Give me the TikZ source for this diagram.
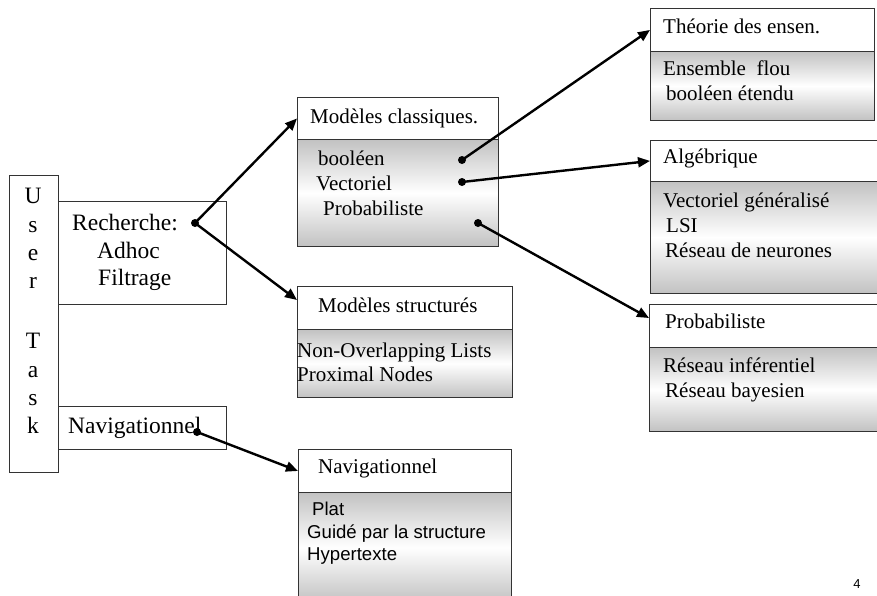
\documentclass[tikz,border=0pt]{standalone}
\usepackage{fontspec}
\setmainfont{Liberation Serif}
\newfontfamily\arialf{Liberation Sans}
\usetikzlibrary{arrows.meta}
\begin{document}
\begin{tikzpicture}[x=1pt,y=-1pt,
  box/.style={draw=black!80, line width=0.9pt, inner sep=0pt, anchor=north west},
  head/.style={box, fill=white},
  body/.style={box, top color=black!24, bottom color=black!24, middle color=white},
  txt/.style={anchor=base west, inner sep=0pt, font=\fontsize{21}{25}\selectfont},
  btxt/.style={anchor=base west, inner sep=0pt, font=\fontsize{23.5}{28}\selectfont},
  atxt/.style={anchor=base west, inner sep=0pt, font=\arialf\fontsize{18.6}{22}\selectfont},
  dotc/.style={circle, fill=black, inner sep=0pt, minimum size=8pt},
  conn/.style={line width=2.4pt, -{Triangle[length=12pt,width=10pt]}}]
\clip (0,0) rectangle (877,595);
\fill[white] (0,0) rectangle (877,595);

% User Task column
\node[box, minimum width=49pt, minimum height=297pt] (user) at (9,175) {};
\foreach \l/\yy [count=\i] in {U/203,s/232,e/260,r/288,T/348,a/377,s/405,k/433}
  \node[btxt, anchor=base] (ul\i) at (33,\yy) {\l};

% Recherche box
\node[box, minimum width=168pt, minimum height=103pt] (rech) at (58,201) {};
\node[btxt] (t1) at (72,230) {Recherche:};
\node[btxt] (t2) at (97,258) {Adhoc};
\node[btxt] (t3) at (98,285) {Filtrage};
\node[dotc] (drech) at (195,223) {};

% Navigationnel left box
\node[box, minimum width=168pt, minimum height=43pt] (navl) at (58,406) {};
\node[btxt] (t4) at (68,433) {Navigationnel};
\node[dotc] (dnav) at (197,432) {};

% Modeles classiques
\node[head, minimum width=201pt, minimum height=42pt] (mch) at (297,97) {};
\node[body, minimum width=201pt, minimum height=107pt] (mcb) at (297,139) {};
\node[txt] (c0) at (310,123) {Modèles classiques.};
\node[txt] (c1) at (318,165) {booléen};
\node[txt] (c2) at (316,190) {Vectoriel};
\node[txt] (c3) at (323,215) {Probabiliste};
\node[dotc] (dbool) at (462,160) {};
\node[dotc] (dvect) at (462,182) {};
\node[dotc] (dprob) at (478,223) {};

% Modeles structures
\node[head, minimum width=215pt, minimum height=43pt] (msh) at (297,286) {};
\node[body, minimum width=215pt, minimum height=68pt] (msb) at (297,329) {};
\node[txt] (s0) at (318,312) {Modèles structurés};
\node[txt] (s1) at (297,357) {Non-Overlapping Lists};
\node[txt] (s2) at (297,381) {Proximal Nodes};

% Navigationnel bottom box
\node[head, minimum width=213pt, minimum height=43pt] (nbh) at (298,449) {};
\node[body, minimum width=213pt, minimum height=110pt] (nbb) at (298,492) {};
\node[txt] (n0) at (318,473) {Navigationnel};
\node[atxt] (n1) at (312,515) {Plat};
\node[atxt] (n2) at (307,538) {Guidé par la structure};
\node[atxt] (n3) at (307,560) {Hypertexte};

% Theorie des ensembles
\node[head, minimum width=224pt, minimum height=43pt] (thh) at (650,8) {};
\node[body, minimum width=224pt, minimum height=69pt] (thb) at (650,51) {};
\node[txt] (e0) at (663,33) {Théorie des ensen.};
\node[txt] (e1) at (663,75) {Ensemble\ \ flou};
\node[txt] (e2) at (666,100) {booléen étendu};

% Algebrique
\node[head, minimum width=240pt, minimum height=41pt] (alh) at (650,140) {};
\node[body, minimum width=240pt, minimum height=112pt] (alb) at (650,181) {};
\node[txt] (a0) at (663,163) {Algébrique};
\node[txt] (a1) at (663,207) {Vectoriel généralisé};
\node[txt] (a2) at (666,232) {LSI};
\node[txt] (a3) at (665,257) {Réseau de neurones};

% Probabiliste
\node[head, minimum width=240pt, minimum height=43pt] (prh) at (649,304) {};
\node[body, minimum width=240pt, minimum height=84pt] (prb) at (649,347) {};
\node[txt] (p0) at (665,328) {Probabiliste};
\node[txt] (p1) at (663,372) {Réseau inférentiel};
\node[txt] (p2) at (665,397) {Réseau bayesien};

% page number
\node[anchor=base, inner sep=0pt, font=\arialf\fontsize{13}{15}\selectfont] (pg) at (857,588) {4};

% connectors
\draw[conn] (drech.center) -- (mch.west);
\draw[conn] (drech.center) -- ([yshift=-14pt]msh.north west);
\draw[conn] (dnav.center) -- (nbh.west);
\draw[conn] (dbool.center) -- (thh.west);
\draw[conn] (dvect.center) -- (alh.west);
\draw[conn] (dprob.center) -- ([yshift=-14pt]prh.north west);
\end{tikzpicture}
\end{document}
